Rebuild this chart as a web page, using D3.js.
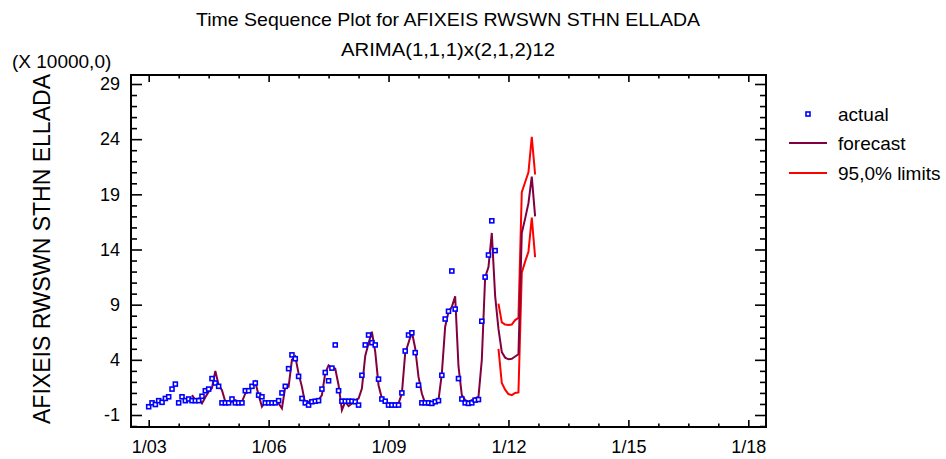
<!DOCTYPE html>
<html><head><meta charset="utf-8">
<script src="https://cdn.jsdelivr.net/npm/d3@7"></script>
<style>
body{margin:0;background:#fff}
svg{display:block}
text{font-family:Arial,"Liberation Sans",sans-serif;fill:#000}
</style>
</head><body>
<svg id="c" width="946" height="459"></svg>
<script>
// ---- data (values in units of 10000) ----
// monthly series, index 0 = January 2003
const actual = [
  -0.25, 0.1, -0.05, 0.3, 0.15, 0.5, 0.65, 1.35, 1.8, 0.1,
  0.65, 0.3, 0.45, 0.3, 0.3, 0.3, 0.7, 1.2, 1.35, 2.3,
  1.9, 1.6, 0.1, 0.1, 0.1, 0.45, 0.1, 0.1, 0.1, 1.2,
  1.2, 1.6, 1.9, 0.8, 0.65, 0.1, 0.1, 0.1, 0.1, 0.3,
  1.0, 1.6, 3.2, 4.45, 4.1, 2.5, 0.5, 0.1, -0.1, 0.2,
  0.25, 0.3, 1.35, 2.85, 2.1, 3.25, 5.35, 1.2, 0.25, 0.25,
  0.25, 0.25, 0.2, -0.1, 2.6, 5.35, 6.25, 5.55, 5.35, 2.25,
  0.45, 0.25, -0.1, -0.1, -0.1, -0.1, 1.0, 4.8, 6.25, 6.45,
  4.65, 1.7, 0.1, 0.1, 0.1, 0.05, 0.2, 0.3, 2.6, 7.7,
  8.4, 12.05, 8.6, 2.3, 0.45, 0.1, 0.05, 0.1, 0.35, 0.4,
  7.5, 11.5, 13.5, 16.6, 13.9
];
// fitted values + forecasts, starting at month index 13
const forecastStart = 13;
const forecast = [
  0.8, 0.35, 0.5, 0.05, 0.6, 1.1, 1.45,
  3.0, 1.7, 1.25, 0.2, 0.2, 0.2, 0.35, 0.2, 0.2, 0.95,
  1.2, 1.55, 2.0, 0.8, -0.25, 0.2, 0.2, 0.05, 0.2, 0.05,
  -0.4, 1.55, 1.55, 4.0, 4.3, 2.75, 1.55, 0.0, 0.2, 0.3,
  0.35, 0.35, 0.8, 2.8, 3.5, 3.25, 3.2, 1.7, -0.55, 0.2,
  -0.2, 0.05, 0.35, 0.5, 1.4, 4.35, 5.5, 6.55, 4.75, 1.7,
  0.5, 0.2, 0.05, 0.05, 0.05, 0.05, 0.95, 4.6, 5.55, 6.55,
  5.05, 2.45, 0.95, 0.05, -0.1, -0.05, 0.1, 0.35, 2.75, 7.0,
  8.35, 8.8, 9.75, 3.4, 0.8, 0.35, 0.2, 0.35, 0.5, 0.65,
  4.0, 11.5, 12.4, 15.5, 9.8,
  6.8, 4.7, 4.2, 4.05, 4.1, 4.3, 4.5, 15.5, 16.8, 18.2, 20.6, 17.0
];
// 95% limits, starting at month index 105
const limitStart = 105;
const upperLimit = [9.1, 7.4, 7.2, 7.15, 7.2, 7.6, 7.8, 19.2, 20.1, 21.0, 24.2, 20.8];
const lowerLimit = [5.0, 1.9, 1.3, 0.9, 0.8, 1.0, 1.05, 11.9, 12.9, 13.8, 16.9, 13.3];

const xTickMonths = [0, 36, 72, 108, 144, 180];
const xTickLabels = ["1/03", "1/06", "1/09", "1/12", "1/15", "1/18"];
const yTickValues = [-1, 4, 9, 14, 19, 24, 29];
const legendLabels = ["actual", "forecast", "95,0% limits"];
const titleText = "Time Sequence Plot for AFIXEIS RWSWN STHN ELLADA";
const subtitleText = "ARIMA(1,1,1)x(2,1,2)12";
const yAxisTitle = "AFIXEIS RWSWN STHN ELLADA";
const scaleNote = "(X 10000,0)";

// ---- layout ----
const box = {l: 131, r: 766, t: 75, b: 427};
const svg = d3.select("#c");
const x = d3.scaleLinear().domain([0, 180]).range([148.7, 748.3]);
const y = d3.scaleLinear().domain([-1, 29]).range([415, 84]);
const col = {actual: "#0000ff", fc: "#800040", lim: "#ff0000"};

// titles
svg.append("text").attr("x", 448).attr("y", 26).attr("text-anchor", "middle")
  .attr("font-size", 19).attr("textLength", 504).attr("lengthAdjust", "spacingAndGlyphs").text(titleText);
svg.append("text").attr("x", 448).attr("y", 56).attr("text-anchor", "middle")
  .attr("font-size", 19).attr("textLength", 214).attr("lengthAdjust", "spacingAndGlyphs").text(subtitleText);
svg.append("text").attr("x", 12).attr("y", 68).attr("font-size", 19).text(scaleNote);
svg.append("text").attr("transform", "translate(50,249) rotate(-90)").attr("text-anchor", "middle")
  .attr("font-size", 24).attr("textLength", 350).attr("lengthAdjust", "spacingAndGlyphs").text(yAxisTitle);

// axes
const minorX = d3.range(0, 181, 9).filter(m => m % 36 !== 0);
const minorY = d3.range(-2, 30).filter(v => !yTickValues.includes(v));

function styleAxis(g) {
  g.select(".domain").remove();
  g.selectAll("line").attr("stroke", "#000").attr("stroke-width", 1.6);
  g.selectAll("text").attr("font-size", 18).attr("fill", "#000").attr("font-family", 'Arial,"Liberation Sans",sans-serif');
}
// bottom
svg.append("g").attr("transform", `translate(0,${box.b})`)
  .call(d3.axisBottom(x).tickValues(xTickMonths).tickSize(-7).tickPadding(13)
    .tickFormat((d, i) => xTickLabels[i])).call(styleAxis);
svg.append("g").attr("transform", `translate(0,${box.b})`)
  .call(d3.axisBottom(x).tickValues(minorX).tickSize(-3.5).tickFormat("")).call(styleAxis);
// top
svg.append("g").attr("transform", `translate(0,${box.t})`)
  .call(d3.axisTop(x).tickValues(xTickMonths).tickSize(-7).tickFormat("")).call(styleAxis);
svg.append("g").attr("transform", `translate(0,${box.t})`)
  .call(d3.axisTop(x).tickValues(minorX).tickSize(-3.5).tickFormat("")).call(styleAxis);
// left
svg.append("g").attr("transform", `translate(${box.l},0)`)
  .call(d3.axisLeft(y).tickValues(yTickValues).tickSize(-11).tickPadding(11)
    .tickFormat(d => String(d))).call(styleAxis);
svg.append("g").attr("transform", `translate(${box.l},0)`)
  .call(d3.axisLeft(y).tickValues(minorY).tickSize(-6).tickFormat("")).call(styleAxis);
// right
svg.append("g").attr("transform", `translate(${box.r},0)`)
  .call(d3.axisRight(y).tickValues(yTickValues).tickSize(-11).tickFormat("")).call(styleAxis);
svg.append("g").attr("transform", `translate(${box.r},0)`)
  .call(d3.axisRight(y).tickValues(minorY).tickSize(-6).tickFormat("")).call(styleAxis);

// frame
svg.append("rect").attr("x", box.l).attr("y", box.t).attr("width", box.r - box.l).attr("height", box.b - box.t)
  .attr("fill", "none").attr("stroke", "#000").attr("stroke-width", 2);

// lines
const line = d3.line().x(d => x(d.m)).y(d => y(d.v));
const fcData = forecast.map((v, i) => ({m: forecastStart + i, v}));
const upData = upperLimit.map((v, i) => ({m: limitStart + i, v}));
const loData = lowerLimit.map((v, i) => ({m: limitStart + i, v}));
svg.append("path").datum(upData).attr("d", line).attr("fill", "none").attr("stroke", col.lim).attr("stroke-width", 2);
svg.append("path").datum(loData).attr("d", line).attr("fill", "none").attr("stroke", col.lim).attr("stroke-width", 2);
svg.append("path").datum(fcData).attr("d", line).attr("fill", "none").attr("stroke", col.fc).attr("stroke-width", 2);

// actual points
svg.append("g").selectAll("rect").data(actual.map((v, i) => ({m: i, v}))).join("rect")
  .attr("x", d => x(d.m) - 2).attr("y", d => y(d.v) - 2).attr("width", 4).attr("height", 4)
  .attr("fill", "#fff").attr("stroke", col.actual).attr("stroke-width", 1.6);

// legend
const lg = svg.append("g");
const ly = [114, 143, 173];
lg.append("rect").attr("x", 806).attr("y", ly[0] - 2).attr("width", 4).attr("height", 4)
  .attr("fill", "#fff").attr("stroke", col.actual).attr("stroke-width", 1.6);
lg.append("line").attr("x1", 789).attr("x2", 827).attr("y1", ly[1]).attr("y2", ly[1]).attr("stroke", col.fc).attr("stroke-width", 2);
lg.append("line").attr("x1", 789).attr("x2", 827).attr("y1", ly[2]).attr("y2", ly[2]).attr("stroke", col.lim).attr("stroke-width", 2);
lg.selectAll("text").data(legendLabels).join("text")
  .attr("x", 838).attr("y", (d, i) => ly[i]).attr("dy", "0.35em").attr("font-size", 19).text(d => d);
</script>
</body></html>
